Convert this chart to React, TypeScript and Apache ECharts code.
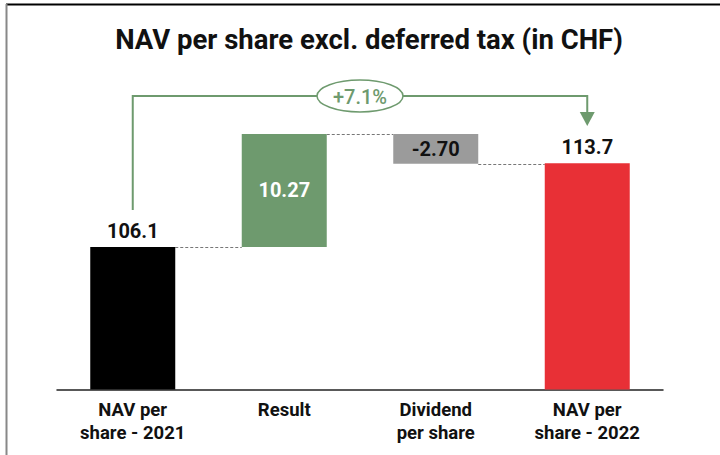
import React, { useEffect, useRef } from 'react';
import * as echarts from 'echarts';

const categories = ['NAV per\nshare - 2021', 'Result', 'Dividend\nper share', 'NAV per\nshare - 2022'];
const startValue = 106.1;
const changes = [10.27, -2.7];
const endValue = 113.7;
const valueLabels = ['106.1', '10.27', '-2.70', '113.7'];
const growthLabel = '+7.1%';
const titleText = 'NAV per share excl. deferred tax (in CHF)';

const barColors = ['#000000', '#6e9a6e', '#9b9b9b', '#e83036'];
const labelColors = ['#111111', '#ffffff', '#111111', '#111111'];
const labelPositions = ['top', 'inside', 'inside', 'top'];
const GREEN = '#6e9a6e';
const FONT = 'Roboto, "Liberation Sans", sans-serif';

export default function App() {
  const ref = useRef<HTMLDivElement>(null);
  useEffect(() => {
    if (!ref.current) return;
    const chart = echarts.init(ref.current, null, { renderer: 'svg' });

    const base: number[] = [0];
    const vis: number[] = [startValue];
    let running = startValue;
    changes.forEach((c) => {
      if (c >= 0) {
        base.push(running);
        vis.push(c);
      } else {
        base.push(running + c);
        vis.push(-c);
      }
      running += c;
    });
    base.push(0);
    vis.push(endValue);

    // connector levels between consecutive bars
    const connLevels: number[] = [startValue];
    let r = startValue;
    changes.forEach((c, i) => {
      if (i < changes.length - 1) {
        r += c;
        connLevels.push(r);
      } else {
        connLevels.push(r + c);
      }
    });

    const BAR_W = 85;

    chart.setOption({
      animation: false,
      backgroundColor: '#ffffff',
      grid: { left: 57, right: 57, top: 94, bottom: 65.5 },
      xAxis: {
        type: 'category',
        data: categories,
        axisLine: { show: true, lineStyle: { color: '#222', width: 1.5 } },
        axisTick: { show: false },
        axisLabel: {
          color: '#111',
          fontSize: 18.5,
          fontFamily: FONT,
          fontWeight: 'bold',
          lineHeight: 23,
          margin: 9,
          interval: 0,
        },
      },
      yAxis: {
        type: 'value',
        min: 93.15,
        max: 120,
        show: false,
        splitLine: { show: false },
      },
      series: [
        {
          type: 'bar',
          stack: 'w',
          barWidth: BAR_W,
          silent: true,
          itemStyle: { color: 'transparent' },
          data: base,
        },
        {
          type: 'bar',
          stack: 'w',
          barWidth: BAR_W,
          data: vis.map((v, i) => ({
            value: v,
            itemStyle: { color: barColors[i] },
            label: {
              show: true,
              position: labelPositions[i],
              distance: 6,
              formatter: valueLabels[i],
              color: labelColors[i],
              fontSize: 20,
              fontWeight: 'bold',
              fontFamily: FONT,
            },
          })),
        },
      ],
    });

    const px = (i: number, v: number) => chart.convertToPixel({ xAxisIndex: 0, yAxisIndex: 0 }, [i, v]) as number[];
    const half = BAR_W / 2;
    const graphics: any[] = [];

    // frame
    graphics.push({ type: 'line', shape: { x1: 6, y1: 4.5, x2: 720, y2: 4.5 }, style: { stroke: '#000', lineWidth: 2 } });
    graphics.push({ type: 'line', shape: { x1: 6.5, y1: 4, x2: 6.5, y2: 455 }, style: { stroke: '#888', lineWidth: 2 } });

    // title
    graphics.push({
      type: 'text',
      x: 369,
      y: 39,
      style: {
        text: titleText,
        fontSize: 27.5,
        fontWeight: 'bold',
        fontFamily: FONT,
        fill: '#111',
        align: 'center',
        verticalAlign: 'middle',
      },
    });

    // connectors
    connLevels.forEach((lv, i) => {
      const a = px(i, lv);
      const b = px(i + 1, lv);
      const y = Math.round(a[1]) + 0.5;
      graphics.push({
        type: 'line',
        shape: { x1: a[0] + half, y1: y, x2: b[0] - half, y2: y },
        style: { stroke: '#777', lineWidth: 1, lineDash: [3, 2] },
      });
    });

    // growth annotation
    const p0 = px(0, startValue);
    const p3 = px(categories.length - 1, endValue);
    const topY = 96;
    const lineBottom = p0[1] - 37;
    const arrowTop = 112;
    const arrowTip = 126;
    graphics.push({
      type: 'polyline',
      shape: { points: [[p0[0], lineBottom], [p0[0], topY], [p3[0], topY], [p3[0], arrowTop]] },
      style: { stroke: GREEN, lineWidth: 2, fill: 'none' },
    });
    graphics.push({
      type: 'polygon',
      shape: { points: [[p3[0] - 7.5, arrowTop], [p3[0] + 7.5, arrowTop], [p3[0], arrowTip]] },
      style: { fill: GREEN },
    });
    const midX = (p0[0] + p3[0]) / 2;
    graphics.push({
      type: 'ellipse',
      shape: { cx: midX, cy: topY, rx: 43, ry: 16 },
      style: { fill: '#fff', stroke: GREEN, lineWidth: 1.5 },
    });
    graphics.push({
      type: 'text',
      x: midX,
      y: topY + 1,
      style: {
        text: growthLabel,
        fontSize: 20,
        fontFamily: FONT,
        fontWeight: 500,
        fill: GREEN,
        align: 'center',
        verticalAlign: 'middle',
      },
    });

    chart.setOption({ graphic: graphics });

    return () => chart.dispose();
  }, []);

  return <div ref={ref} style={{ position: 'fixed', left: 0, top: 0, width: 720, height: 455, background: '#fff' }} />;
}
